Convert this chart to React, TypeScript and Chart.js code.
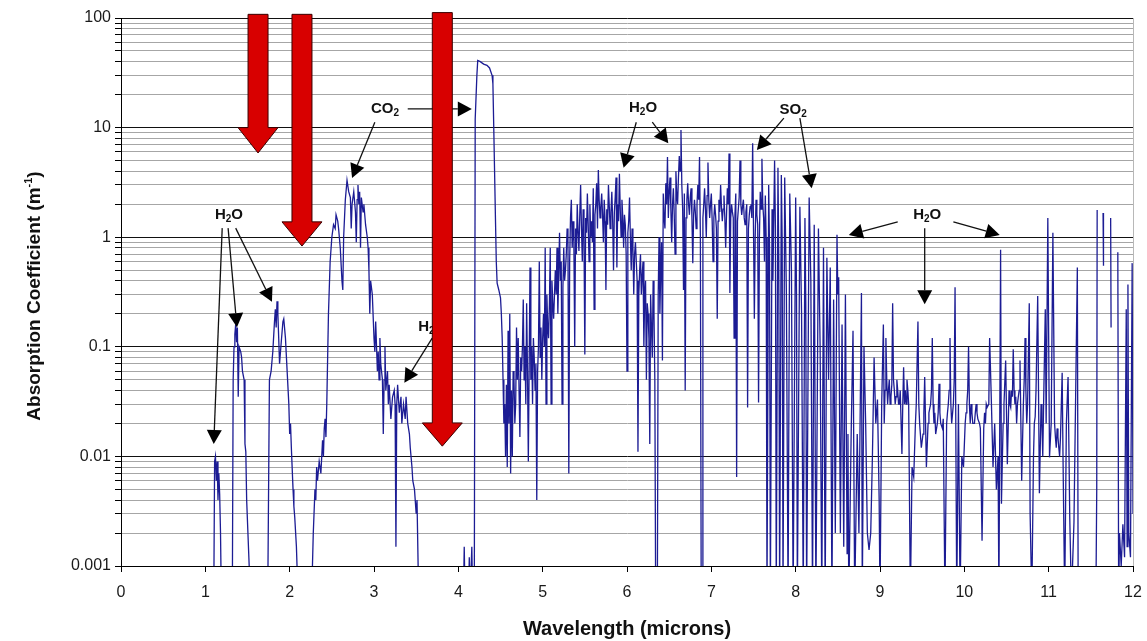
import React, { useEffect, useRef } from 'react';
import { Chart, registerables } from 'chart.js';

Chart.register(...registerables);

// Values below 0.001 fall under the bottom of the axis (drawn off-scale)
const LOW = 0.0005;

// ---- spectrum: [wavelength (µm), absorption (1/m)] ----
const nearIRBands: [number, number | null][] = [
  [0, LOW], [1.08, LOW], [1.10, LOW], [1.11, 0.009], [1.12, 0.01], [1.13, 0.006], [1.14, 0.009],
  [1.15, 0.004], [1.16, 0.007], [1.17, 0.0045], [1.18, 0.002], [1.19, LOW], [1.32, LOW],
  [1.33, 0.05], [1.34, 0.1], [1.35, 0.13], [1.36, 0.16], [1.37, 0.11], [1.38, 0.15], [1.39, 0.035],
  [1.40, 0.1], [1.42, 0.09], [1.43, 0.08], [1.44, 0.06], [1.46, 0.05], [1.47, 0.013], [1.48, 0.011],
  [1.49, 0.004], [1.52, 0.001], [1.53, LOW], [1.74, LOW],
  [1.76, 0.05], [1.78, 0.06], [1.80, 0.09], [1.82, 0.17], [1.83, 0.22], [1.84, 0.15], [1.85, 0.26],
  [1.86, 0.2], [1.87, 0.12], [1.88, 0.07], [1.90, 0.11], [1.92, 0.17], [1.93, 0.18], [1.95, 0.12],
  [1.97, 0.06], [1.99, 0.03], [2.00, 0.016], [2.01, 0.02], [2.02, 0.012], [2.04, 0.005], [2.05, 0.0035],
  [2.06, 0.0028], [2.08, 0.0015], [2.10, LOW], [2.26, LOW],
  [2.28, 0.002], [2.30, 0.005], [2.31, 0.004], [2.32, 0.008], [2.33, 0.006], [2.35, 0.009], [2.37, 0.007],
  [2.39, 0.014], [2.40, 0.01], [2.41, 0.018], [2.42, 0.022], [2.43, 0.015], [2.44, 0.03], [2.46, 0.2],
  [2.48, 0.6], [2.50, 1.0], [2.52, 1.3], [2.54, 1.2], [2.55, 1.6], [2.57, 1.4], [2.58, 1.2], [2.60, 0.8],
  [2.62, 0.4], [2.63, 0.33], [2.64, 1.0], [2.66, 2.2], [2.68, 3.3], [2.70, 2.6], [2.72, 2.3], [2.73, 1.2],
  [2.74, 2.0], [2.76, 2.6], [2.78, 1.7], [2.79, 0.9], [2.80, 2.2], [2.81, 3.0], [2.82, 2.0], [2.83, 2.6],
  [2.84, 0.8], [2.85, 2.3], [2.87, 1.7], [2.88, 2.0], [2.90, 1.3], [2.92, 1.0], [2.93, 0.8], [2.94, 0.5],
  [2.95, 0.2], [2.96, 0.4], [2.98, 0.3], [3.00, 0.12], [3.01, 0.09], [3.02, 0.17], [3.04, 0.06],
  [3.05, 0.09], [3.06, 0.05], [3.07, 0.12], [3.08, 0.07], [3.10, 0.05], [3.11, 0.016], [3.12, 0.05],
  [3.13, 0.1], [3.14, 0.04], [3.16, 0.06], [3.17, 0.03], [3.18, 0.045], [3.20, 0.022], [3.22, 0.035],
  [3.24, 0.04], [3.25, 0.03], [3.26, 0.0015], [3.27, 0.03], [3.28, 0.045], [3.30, 0.025], [3.32, 0.035],
  [3.33, 0.02], [3.35, 0.03], [3.37, 0.022], [3.38, 0.035], [3.40, 0.02], [3.42, 0.016], [3.43, 0.012],
  [3.45, 0.008], [3.46, 0.006], [3.48, 0.005], [3.50, 0.003], [3.51, 0.004], [3.53, LOW],
];

const co2Band: [number, number | null][] = [
  [4.06, LOW], [4.07, 0.0015], [4.08, LOW], [4.12, LOW], [4.13, 0.0012], [4.14, LOW], [4.16, 0.0015],
  [4.17, LOW], [4.19, 0.001], [4.20, 12], [4.22, 30], [4.23, 41], [4.26, 40], [4.30, 38], [4.34, 37],
  [4.37, 35], [4.40, 30], [4.41, 25], [4.42, 10], [4.44, 1.5], [4.45, 0.6], [4.46, 0.38], [4.48, 0.33],
  [4.50, 0.28], [4.51, 0.2], [4.52, 0.12], [4.53, 0.05], [4.54, 0.02],
];

const midIRBands: [number, number | null][] = [
  [4.55, 0.03], [4.56, 0.01], [4.57, 0.045], [4.58, 0.008], [4.59, 0.14], [4.60, 0.02], [4.61, 0.2],
  [4.62, 0.007], [4.63, 0.04], [4.64, 0.01], [4.65, 0.06], [4.66, 0.05], [4.67, 0.02], [4.68, 0.03],
  [4.69, 0.15], [4.70, 0.05], [4.71, 0.12], [4.72, 0.04], [4.73, 0.015], [4.74, 0.08], [4.75, 0.06],
  [4.76, 0.1], [4.77, 0.27], [4.78, 0.05], [4.79, 0.1], [4.80, 0.03], [4.81, 0.25], [4.82, 0.06],
  [4.83, 0.009], [4.84, 0.07], [4.85, 0.53], [4.86, 0.05], [4.87, 0.1], [4.88, 0.03], [4.89, 0.12],
  [4.90, 0.08], [4.91, 0.04], [4.92, 0.07], [4.93, 0.004], [4.94, 0.06], [4.95, 0.1], [4.96, 0.6],
  [4.97, 0.08], [4.98, 0.15], [4.99, 0.05], [5.00, 0.12], [5.01, 0.2], [5.02, 0.1], [5.03, 0.8],
  [5.04, 0.03], [5.05, 0.3], [5.06, 0.15], [5.07, 0.12], [5.08, 0.25], [5.09, 0.8], [5.10, 0.03],
  [5.11, 0.4], [5.12, 0.25], [5.13, 0.18], [5.14, 0.3], [5.15, 0.5], [5.16, 0.3], [5.17, 0.8],
  [5.18, 0.2], [5.19, 0.45], [5.20, 1.1], [5.21, 0.4], [5.22, 0.6], [5.23, 0.03], [5.24, 0.35],
  [5.25, 0.8], [5.26, 0.4], [5.27, 0.5], [5.28, 0.7], [5.29, 1.2],
  [5.30, 0.9], [5.31, 0.007], [5.32, 0.6], [5.33, 1.5], [5.34, 2.2], [5.35, 0.8], [5.36, 1.4],
  [5.37, 0.9], [5.38, 0.1], [5.39, 1.2], [5.40, 0.7], [5.41, 2.0], [5.42, 1.1], [5.43, 0.75],
  [5.44, 1.6], [5.45, 3.0], [5.46, 1.2], [5.47, 0.6], [5.48, 1.8], [5.49, 1.0], [5.50, 0.085],
  [5.51, 1.5], [5.52, 1.1], [5.53, 2.5], [5.54, 1.3], [5.55, 0.6], [5.56, 2.0], [5.57, 1.0],
  [5.58, 1.4], [5.59, 0.9], [5.60, 2.8], [5.61, 0.22], [5.62, 1.6], [5.63, 2.0], [5.64, 3.1],
  [5.65, 1.2], [5.66, 4.1], [5.67, 2.2], [5.68, 1.5], [5.69, 1.9], [5.70, 2.5], [5.71, 1.6],
  [5.72, 0.9], [5.73, 2.2], [5.74, 1.4], [5.75, 0.33], [5.76, 1.8], [5.77, 1.3], [5.78, 3.0],
  [5.79, 1.9], [5.80, 1.2], [5.81, 1.7], [5.82, 2.6], [5.83, 1.4], [5.84, 0.5], [5.85, 1.7],
  [5.86, 2.3], [5.87, 3.5], [5.88, 0.53], [5.89, 2.0], [5.90, 1.4], [5.91, 3.8], [5.92, 1.8],
  [5.93, 1.0], [5.94, 2.2], [5.95, 1.5], [5.96, 0.8], [5.97, 1.6], [5.98, 1.3], [5.99, 0.7],
  [6.00, 0.06], [6.01, 1.1], [6.02, 1.4], [6.03, 2.3], [6.04, 1.0], [6.05, 0.5], [6.06, 1.2],
  [6.07, 0.8], [6.08, 0.3], [6.09, 0.7], [6.10, 0.9], [6.11, 0.6], [6.12, 0.4], [6.13, 0.011],
  [6.14, 0.3], [6.15, 0.5], [6.16, 0.7], [6.17, 0.3], [6.18, 0.45], [6.19, 0.6], [6.20, 0.1],
  [6.21, 0.3], [6.22, 0.4], [6.23, 0.05], [6.24, 0.25], [6.25, 0.2], [6.26, 0.12], [6.27, 0.013],
  [6.28, 0.3], [6.29, 0.15], [6.30, 0.08], [6.31, 0.4], [6.32, 0.2], [6.33, 0.05], [6.34, LOW],
  [6.36, LOW], [6.37, 0.3], [6.38, 1.0], [6.39, 0.2], [6.40, 0.5], [6.41, 0.9], [6.42, 0.075],
  [6.43, 2.5], [6.44, 1.5], [6.45, 1.2], [6.46, 3.1], [6.47, 2.0], [6.48, 5.4], [6.49, 1.5],
  [6.50, 2.6], [6.51, 3.5], [6.52, 1.8], [6.53, 0.9], [6.54, 2.0], [6.55, 2.8], [6.56, 1.6],
  [6.57, 0.7], [6.58, 4.0], [6.59, 2.4], [6.60, 2.0], [6.61, 3.5], [6.62, 5.5], [6.63, 4.0],
  [6.64, 9.5], [6.65, 3.0], [6.66, 1.8], [6.67, 0.33], [6.68, 2.5], [6.69, 0.04], [6.70, 1.5],
  [6.71, 2.2], [6.72, 3.1], [6.73, 2.0], [6.74, 1.6], [6.75, 2.3], [6.76, 2.8], [6.77, 1.5],
  [6.78, 0.58], [6.79, 1.6], [6.80, 2.2], [6.81, 1.7], [6.82, 1.2], [6.83, 2.0], [6.84, 3.0],
  [6.85, 2.2], [6.86, 5.4], [6.87, 1.0], [6.88, LOW], [6.89, LOW], [6.90, 1.5], [6.91, 2.0],
  [6.92, 2.8], [6.93, 1.8], [6.94, 1.0], [6.95, 2.4], [6.96, 4.8], [6.97, 2.2], [6.98, 1.5],
  [6.99, 2.0], [7.00, 2.5], [7.01, 1.4], [7.02, 0.6], [7.03, 1.5], [7.04, 2.0], [7.05, 1.6],
  [7.06, 1.2], [7.07, 0.18], [7.08, 1.4], [7.09, 2.2], [7.10, 1.7], [7.11, 3.0], [7.12, 1.9],
  [7.13, 1.4], [7.14, 1.8], [7.15, 2.4], [7.16, 1.5], [7.17, 0.8], [7.18, 1.6], [7.19, 2.8],
  [7.20, 2.0], [7.21, 5.8], [7.22, 0.31], [7.23, 1.5], [7.24, 2.0], [7.25, 1.7], [7.26, 1.5],
  [7.27, 0.12], [7.28, 1.6], [7.29, 2.5], [7.30, 0.0065], [7.31, 1.4], [7.32, 1.8], [7.33, 2.3],
  [7.34, 5.0], [7.35, 2.0], [7.36, 1.6], [7.37, 1.9], [7.38, 2.2], [7.39, 1.5], [7.40, 1.3],
  [7.41, 1.7], [7.42, 2.0], [7.43, 0.028], [7.44, 1.2], [7.45, 1.6], [7.46, 1.9], [7.47, 2.0],
  [7.48, 1.5], [7.49, 7.2], [7.50, 1.2], [7.51, 0.18], [7.52, 1.0], [7.53, 2.2], [7.54, 1.6],
  [7.55, 1.3], [7.56, 0.031], [7.57, 1.0], [7.58, 2.6], [7.59, 1.8], [7.60, 5.2], [7.61, 2.0],
  [7.62, 1.5], [7.63, 0.6], [7.64, 2.4], [7.65, 1.0], [7.66, LOW], [7.68, 3.0], [7.69, 0.8],
  [7.70, LOW], [7.72, 1.8], [7.73, 0.4], [7.75, 5.0], [7.76, 1.2], [7.77, LOW], [7.79, 4.3],
  [7.80, 0.6], [7.81, LOW], [7.83, 3.7], [7.84, 0.9], [7.85, LOW], [7.87, 3.5], [7.89, 0.3],
  [7.91, LOW], [7.93, 2.5], [7.95, 0.5], [7.97, LOW], [8.00, 2.3], [8.01, 0.3], [8.02, LOW],
  [8.05, 1.9], [8.07, 0.2], [8.09, LOW], [8.11, 1.5], [8.12, 0.25], [8.13, LOW], [8.16, 2.3],
  [8.18, 0.4], [8.20, LOW], [8.22, 1.3], [8.24, LOW], [8.27, 1.2], [8.29, 0.1], [8.31, LOW],
  [8.33, 0.8], [8.35, LOW], [8.37, 0.65], [8.39, 0.05], [8.41, 0.53], [8.43, LOW], [8.45, 0.27],
  [8.47, 0.002], [8.49, 1.05], [8.50, 0.3], [8.51, 0.43], [8.53, 0.002], [8.55, 0.16],
  [8.57, 0.0015], [8.59, 0.3],
];

const farIRBands: [number, number | null][] = [
  [8.61, 0.0013], [8.62, 0.016], [8.63, LOW], [8.66, 0.02], [8.68, 0.14], [8.70, LOW], [8.73, 0.016],
  [8.75, 0.002], [8.78, 0.31], [8.79, LOW], [8.81, 0.1], [8.83, 0.02], [8.85, 0.002], [8.87, 0.0014],
  [8.89, 0.002], [8.91, 0.01], [8.93, 0.08], [8.95, 0.02], [8.97, 0.033], [8.99, 0.004], [9.00, LOW],
  [9.02, 0.03], [9.04, 0.16], [9.05, 0.02], [9.06, 0.04], [9.07, 0.12], [9.08, 0.05], [9.09, 0.03],
  [9.10, 0.04], [9.11, 0.05], [9.12, 0.03], [9.13, 0.035], [9.14, 0.045], [9.15, 0.25], [9.16, 0.05],
  [9.17, 0.04], [9.18, 0.03], [9.19, 0.035], [9.20, 0.05], [9.21, 0.04], [9.22, 0.03], [9.23, 0.03],
  [9.24, 0.04], [9.26, 0.0105], [9.27, 0.03], [9.28, 0.065], [9.29, 0.03], [9.30, 0.04], [9.31, 0.03],
  [9.32, 0.05], [9.33, 0.04], [9.34, 0.03], [9.36, LOW], [9.38, 0.008], [9.40, 0.0065], [9.42, 0.02],
  [9.43, 0.03], [9.45, 0.17], [9.46, 0.03], [9.47, 0.02], [9.49, 0.012], [9.51, 0.016], [9.52, 0.025],
  [9.53, 0.053], [9.55, 0.008], [9.57, 0.02], [9.58, 0.025], [9.60, 0.03], [9.61, 0.04], [9.62, 0.12],
  [9.63, 0.03], [9.64, 0.02], [9.65, 0.025], [9.66, 0.016], [9.68, 0.02], [9.69, 0.025], [9.70, 0.046],
  [9.71, 0.025], [9.72, 0.02], [9.74, 0.018], [9.75, 0.022], [9.77, LOW], [9.79, 0.02], [9.80, 0.025],
  [9.81, 0.03], [9.82, 0.04], [9.83, 0.12], [9.84, 0.03], [9.85, 0.02], [9.87, 0.03], [9.88, 0.05],
  [9.89, 0.35], [9.91, LOW], [9.93, 0.03], [9.95, LOW], [9.97, 0.01], [9.99, 0.008], [10.01, 0.02],
  [10.02, 0.025], [10.03, 0.03], [10.04, 0.04], [10.05, 0.1], [10.06, 0.03], [10.07, 0.02],
  [10.08, 0.03], [10.09, 0.025], [10.10, 0.02], [10.12, 0.02], [10.13, 0.025], [10.14, 0.03],
  [10.15, 0.025], [10.16, 0.022], [10.18, 0.02], [10.19, 0.018], [10.21, 0.0017], [10.23, 0.018],
  [10.24, 0.025], [10.25, 0.02], [10.26, 0.03], [10.27, 0.028], [10.29, 0.03], [10.30, 0.12],
  [10.32, 0.033], [10.34, 0.008], [10.36, 0.02], [10.38, 0.005], [10.40, 0.01], [10.41, LOW],
  [10.43, 0.77], [10.44, 0.0037], [10.46, 0.02], [10.47, 0.03], [10.49, 0.075], [10.51, 0.0085],
  [10.53, 0.04], [10.54, 0.03], [10.55, 0.028], [10.56, 0.04], [10.57, 0.035], [10.58, 0.095],
  [10.59, 0.04], [10.60, 0.03], [10.61, 0.035], [10.62, 0.02], [10.63, 0.03], [10.64, 0.035],
  [10.65, 0.04], [10.66, 0.075], [10.68, 0.006], [10.70, 0.03], [10.71, 0.05], [10.72, 0.12],
  [10.73, 0.04], [10.74, 0.02], [10.75, 0.03], [10.77, 0.25], [10.78, 0.003], [10.80, LOW],
  [10.82, 0.01], [10.83, 0.02], [10.84, 0.023], [10.85, 0.04], [10.87, 0.29], [10.89, 0.0046],
  [10.91, 0.03], [10.92, 0.02], [10.93, 0.01], [10.94, 0.03], [10.96, 0.22], [10.97, 0.02],
  [10.99, 1.5], [11.01, 0.0098], [11.03, 0.02], [11.05, 1.1], [11.07, 0.02], [11.08, 0.015],
  [11.09, 0.012], [11.10, 0.018], [11.11, 0.015], [11.12, 0.012], [11.13, 0.01], [11.14, 0.015],
  [11.16, 0.058], [11.17, 0.01], [11.19, LOW], [11.21, 0.02], [11.23, 0.053], [11.25, 0.0028],
  [11.27, LOW], [11.30, 0.0025], [11.34, 0.53], [11.35, LOW],
  [11.56, LOW], [11.57, 0.005], [11.575, 1.77], [11.58, null], [11.645, 1.66], [11.65, 0.55],
  [11.655, null], [11.735, 1.5], [11.74, 0.15], [11.745, null], [11.82, 0.73], [11.83, LOW],
  [11.84, 0.002], [11.86, 0.001], [11.88, 0.0024], [11.90, 0.0012], [11.92, 0.22], [11.93, 0.0015],
  [11.94, 0.37], [11.95, 0.002], [11.97, 0.0012], [11.99, 0.58], [12.0, 0.003],
];

// ---- axes ----
const yTickValues: number[] = [
  0.001, 0.002, 0.003, 0.004, 0.005, 0.006, 0.007, 0.008, 0.009,
  0.01, 0.02, 0.03, 0.04, 0.05, 0.06, 0.07, 0.08, 0.09,
  0.1, 0.2, 0.3, 0.4, 0.5, 0.6, 0.7, 0.8, 0.9,
  1, 2, 3, 4, 5, 6, 7, 8, 9,
  10, 20, 30, 40, 50, 60, 70, 80, 90,
  100,
];
const yTickLabels: number[] = [0.001, 0.01, 0.1, 1, 10, 100];
const xTickLabels: number[] = [0, 1, 2, 3, 4, 5, 6, 7, 8, 9, 10, 11, 12];

// ---- annotations (positions in data units) ----
const chemLabels = [
  { text: 'CO2', wl: 3.13, abs: 14.8 },
  { text: 'H2O', wl: 1.28, abs: 1.6 },
  { text: 'H2O', wl: 3.69, abs: 0.151 },
  { text: 'H2O', wl: 6.19, abs: 15.1 },
  { text: 'SO2', wl: 7.97, abs: 14.5 },
  { text: 'H2O', wl: 9.56, abs: 1.6 },
];
// [fromWl, fromAbs, toWl, toAbs]
const pointerArrows: number[][] = [
  [3.01, 11.2, 2.74, 3.47],
  [3.40, 14.8, 4.16, 14.8],
  [1.20, 1.21, 1.10, 0.013],
  [1.27, 1.21, 1.375, 0.151],
  [1.36, 1.21, 1.79, 0.257],
  [3.69, 0.12, 3.36, 0.047],
  [6.11, 11.2, 5.96, 4.3],
  [6.30, 11.2, 6.49, 7.2],
  [7.86, 12.2, 7.54, 6.25],
  [8.05, 12.2, 8.19, 2.8],
  [9.21, 1.38, 8.63, 1.05],
  [9.87, 1.38, 10.42, 1.05],
  [9.53, 1.21, 9.53, 0.245],
];
// [centerWl, topAbs, headBaseAbs, tipAbs]
const redArrows: number[][] = [
  [1.625, 108, 10, 5.87],
  [2.146, 108, 1.38, 0.83],
  [3.81, 112, 0.0202, 0.0124],
];

const FONT = '"Liberation Sans", Arial, Helvetica, sans-serif';

function drawChem(ctx: CanvasRenderingContext2D, text: string, cx: number, cy: number) {
  const big = `bold 15px ${FONT}`;
  const small = `bold 10px ${FONT}`;
  let total = 0;
  for (const ch of text) {
    ctx.font = /\d/.test(ch) ? small : big;
    total += ctx.measureText(ch).width;
  }
  let x = cx - total / 2;
  ctx.textBaseline = 'middle';
  ctx.textAlign = 'left';
  ctx.fillStyle = '#111';
  for (const ch of text) {
    const sub = /\d/.test(ch);
    ctx.font = sub ? small : big;
    ctx.fillText(ch, x, cy + (sub ? 4 : 0));
    x += ctx.measureText(ch).width;
  }
}

function drawPointer(ctx: CanvasRenderingContext2D, x1: number, y1: number, x2: number, y2: number) {
  const ang = Math.atan2(y2 - y1, x2 - x1);
  const hl = 14;
  const hw = 7.5;
  const bx = x2 - hl * Math.cos(ang);
  const by = y2 - hl * Math.sin(ang);
  ctx.strokeStyle = '#111';
  ctx.fillStyle = '#000';
  ctx.lineWidth = 1.3;
  ctx.beginPath();
  ctx.moveTo(x1, y1);
  ctx.lineTo(bx, by);
  ctx.stroke();
  ctx.beginPath();
  ctx.moveTo(x2, y2);
  ctx.lineTo(bx + hw * Math.sin(ang), by - hw * Math.cos(ang));
  ctx.lineTo(bx - hw * Math.sin(ang), by + hw * Math.cos(ang));
  ctx.closePath();
  ctx.fill();
}

function drawRedArrow(ctx: CanvasRenderingContext2D, cx: number, top: number, base: number, tip: number) {
  const sw = 10;
  const hw = 20;
  ctx.beginPath();
  ctx.moveTo(cx - sw, top);
  ctx.lineTo(cx + sw, top);
  ctx.lineTo(cx + sw, base);
  ctx.lineTo(cx + hw, base);
  ctx.lineTo(cx, tip);
  ctx.lineTo(cx - hw, base);
  ctx.lineTo(cx - sw, base);
  ctx.closePath();
  ctx.fillStyle = '#d80000';
  ctx.fill();
  ctx.strokeStyle = '#3a0000';
  ctx.lineWidth = 1;
  ctx.stroke();
}

const overlayPlugin = {
  id: 'overlay',
  afterDatasetsDraw(chart: any) {
    const { ctx, chartArea } = chart;
    const xs = chart.scales.x;
    const ys = chart.scales.y;
    ctx.save();
    // right frame line
    ctx.strokeStyle = '#b8b8b8';
    ctx.lineWidth = 1;
    ctx.beginPath();
    ctx.moveTo(Math.round(chartArea.right) + 0.5, chartArea.top);
    ctx.lineTo(Math.round(chartArea.right) + 0.5, chartArea.bottom);
    ctx.stroke();

    for (const l of chemLabels) {
      drawChem(ctx, l.text, xs.getPixelForValue(l.wl), ys.getPixelForValue(l.abs));
    }
    for (const a of pointerArrows) {
      drawPointer(
        ctx,
        xs.getPixelForValue(a[0]), ys.getPixelForValue(a[1]),
        xs.getPixelForValue(a[2]), ys.getPixelForValue(a[3]),
      );
    }
    for (const r of redArrows) {
      drawRedArrow(
        ctx,
        xs.getPixelForValue(r[0]),
        ys.getPixelForValue(r[1]),
        ys.getPixelForValue(r[2]),
        ys.getPixelForValue(r[3]),
      );
    }

    // axis titles
    ctx.fillStyle = '#111';
    ctx.textBaseline = 'middle';
    ctx.textAlign = 'center';
    ctx.font = `bold 20px ${FONT}`;
    ctx.fillText('Wavelength (microns)', (chartArea.left + chartArea.right) / 2, chartArea.bottom + 63);

    ctx.translate(35, (chartArea.top + chartArea.bottom) / 2 + 4);
    ctx.rotate(-Math.PI / 2);
    const main = 'Absorption Coefficient (m';
    const sup = '-1';
    const end = ')';
    ctx.font = `bold 19px ${FONT}`;
    const w1 = ctx.measureText(main).width;
    const w3 = ctx.measureText(end).width;
    ctx.font = `bold 11px ${FONT}`;
    const w2 = ctx.measureText(sup).width;
    let x0 = -(w1 + w2 + w3) / 2;
    ctx.textAlign = 'left';
    ctx.font = `bold 19px ${FONT}`;
    ctx.fillText(main, x0, 0);
    x0 += w1;
    ctx.font = `bold 11px ${FONT}`;
    ctx.fillText(sup, x0, -6);
    x0 += w2;
    ctx.font = `bold 19px ${FONT}`;
    ctx.fillText(end, x0, 0);
    ctx.restore();
  },
};

export default function App() {
  const canvasRef = useRef<HTMLCanvasElement | null>(null);

  useEffect(() => {
    const canvas = canvasRef.current;
    if (!canvas) return;
    const points = [...nearIRBands, ...co2Band, ...midIRBands, ...farIRBands].map(([x, y]) => ({ x, y }));
    const isMajor = (v: number) => yTickLabels.some((m) => Math.abs(m - v) < m * 1e-6);

    const chart = new Chart(canvas, {
      type: 'line',
      data: {
        datasets: [
          {
            data: points as any,
            borderColor: '#1c1c94',
            borderWidth: 1.3,
            pointRadius: 0,
            tension: 0,
            spanGaps: false,
            fill: false,
          },
        ],
      },
      options: {
        animation: false,
        responsive: false,
        maintainAspectRatio: false,
        parsing: false as any,
        normalized: true,
        layout: { padding: { top: 18, right: 14, left: 0, bottom: 0 } },
        plugins: {
          legend: { display: false },
          tooltip: { enabled: false },
          title: { display: false },
        },
        scales: {
          x: {
            type: 'linear',
            min: 0,
            max: 12,
            afterBuildTicks: (scale: any) => {
              scale.ticks = xTickLabels.map((v) => ({ value: v }));
            },
            afterFit: (scale: any) => {
              scale.height = 75;
              scale.paddingLeft = 0;
              scale.paddingRight = 0;
            },
            grid: {
              drawOnChartArea: false,
              drawTicks: true,
              tickLength: 6,
              tickColor: '#000',
              color: '#000',
            },
            border: { display: true, color: '#000', width: 1 },
            ticks: {
              autoSkip: false,
              maxRotation: 0,
              padding: 11,
              color: '#1a1a1a',
              font: { family: FONT, size: 16 },
              callback: (v: any) => String(v),
            },
          },
          y: {
            type: 'logarithmic',
            min: 0.001,
            max: 100,
            afterBuildTicks: (scale: any) => {
              scale.ticks = yTickValues.map((v) => ({ value: v, major: isMajor(v) }));
            },
            afterFit: (scale: any) => {
              scale.width = 121;
              scale.paddingTop = 0;
              scale.paddingBottom = 0;
            },
            grid: {
              drawOnChartArea: true,
              drawTicks: true,
              tickLength: 6,
              tickColor: '#000',
              lineWidth: 1,
              color: (c: any) => (c.tick && isMajor(c.tick.value) ? '#111' : '#a6a6a6'),
            },
            border: { display: true, color: '#000', width: 1 },
            ticks: {
              autoSkip: false,
              padding: 4,
              color: '#1a1a1a',
              font: { family: FONT, size: 16 },
              callback: (v: any) => (isMajor(Number(v)) ? String(Number(v)) : ''),
            },
          },
        },
      },
      plugins: [overlayPlugin],
    });

    return () => chart.destroy();
  }, []);

  return (
    <div style={{ position: 'fixed', left: 0, top: 0, width: 1147, height: 641, background: '#fff' }}>
      <canvas ref={canvasRef} width={1147} height={641} style={{ display: 'block' }} />
    </div>
  );
}
